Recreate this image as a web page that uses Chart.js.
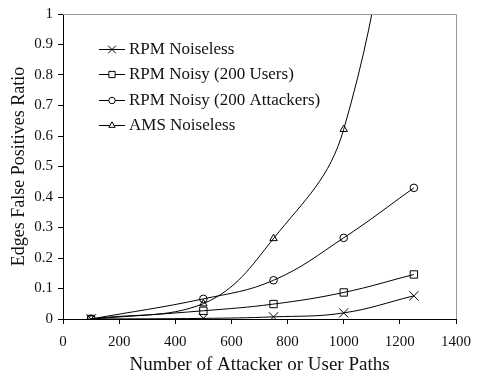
<!DOCTYPE html>
<html lang="en">
<head>
<meta charset="UTF-8">
<title>Edges False Positives Ratio</title>
<script src="https://cdn.jsdelivr.net/npm/chart.js@4"></script>
<style>
  html, body { margin: 0; padding: 0; background: #fff; }
  #wrap { width: 480px; height: 376px; }
</style>
</head>
<body>
<div id="wrap"><canvas id="myChart" width="480" height="376"></canvas></div>
<script>
// data
let pathCounts = [100, 500, 750, 1000, 1250];
let rpmNoiseless = [0, 0.002, 0.007, 0.02, 0.076];
let rpmNoisyUsers = [0, 0.027, 0.049, 0.087, 0.146];
let rpmNoisyAttackers = [0, 0.066, 0.127, 0.266, 0.43];
let amsNoiseless = [0, 0.05, 0.264, 0.622, 1.85];

let seriesNames = ['RPM Noiseless', 'RPM Noisy (200 Users)', 'RPM Noisy (200 Attackers)', 'AMS Noiseless'];
let seriesMarkers = ['crossRot', 'rect', 'circle', 'triangle'];
let markerSizes = [6.5, 5.2, 3.8, 4.3];
let seriesValues = [rpmNoiseless, rpmNoisyUsers, rpmNoisyAttackers, amsNoiseless];

let serif = "'Liberation Serif', 'Times New Roman', serif";

let toPoints = (values) => values.map((v, i) => ({ x: pathCounts[i], y: v }));

let datasets = seriesValues.map((values, i) => ({
    label: seriesNames[i],
    data: toPoints(values),
    borderColor: '#000',
    borderWidth: 1,
    backgroundColor: '#fff',
    pointStyle: seriesMarkers[i],
    pointRadius: markerSizes[i],
    pointBorderColor: '#000',
    pointBackgroundColor: 'rgba(255,255,255,0)',
    pointBorderWidth: 1,
    tension: 0.4,
    fill: false
}));

// legend inside the plot + grey frame on top and right
let cadrePlugin = {
    id: 'cadre',
    afterDraw(chart) {
        let ctx = chart.ctx;
        let area = chart.chartArea;
        ctx.save();
        ctx.strokeStyle = '#999';
        ctx.lineWidth = 1;
        ctx.beginPath();
        ctx.moveTo(area.left, area.top + 0.5);
        ctx.lineTo(area.right + 0.5, area.top + 0.5);
        ctx.lineTo(area.right + 0.5, area.bottom);
        ctx.stroke();

        let x0 = 99, x1 = 125, y = 48.5;
        ctx.font = '17px ' + serif;
        ctx.textBaseline = 'middle';
        datasets.forEach((ds, i) => {
            let yy = Math.round(y + i * 25.5);
            ctx.strokeStyle = '#000';
            ctx.lineWidth = 1;
            ctx.beginPath();
            ctx.moveTo(x0, yy + 0.5);
            ctx.lineTo(x1, yy + 0.5);
            ctx.stroke();
            ctx.fillStyle = '#fff';
            Chart.helpers.drawPoint(ctx, {
                pointStyle: ds.pointStyle,
                radius: ds.pointRadius * 0.85,
                borderWidth: 1
            }, (x0 + x1) / 2, yy + 0.5);
            ctx.fillStyle = '#111';
            ctx.fillText(ds.label, x1 + 4, yy + 1);
        });
        ctx.restore();
    }
};

let content = document.querySelector('#myChart').getContext('2d');
let myChart = new Chart(content, {
    type: 'line',
    data: { datasets: datasets },
    options: {
        responsive: false,
        animation: false,
        layout: { padding: { top: 12, right: 22, left: 0, bottom: 0 } },
        plugins: { legend: { display: false }, tooltip: { enabled: false } },
        scales: {
            x: {
                type: 'linear',
                min: 0,
                max: 1400,
                ticks: {
                    stepSize: 200, color: '#111', font: { family: serif, size: 15 }, padding: 9, maxRotation: 0,
                    callback: (value) => String(value)
                },
                grid: { drawOnChartArea: false, drawTicks: true, tickLength: 5, color: '#000' },
                border: { color: '#000', width: 1 },
                title: { display: true, text: 'Number of Attacker or User Paths', color: '#111', font: { family: serif, size: 19 }, padding: { top: 4, bottom: 0 } },
                afterFit(scale) { scale.height = 57; }
            },
            y: {
                min: 0,
                max: 1,
                ticks: {
                    stepSize: 0.1, color: '#111', font: { family: serif, size: 15 }, padding: 5,
                    callback: (value) => String(Math.round(value * 10) / 10)
                },
                grid: { drawOnChartArea: false, drawTicks: true, tickLength: 5, color: '#000' },
                border: { color: '#000', width: 1 },
                title: { display: true, text: 'Edges False Positives Ratio', color: '#111', font: { family: serif, size: 18 }, padding: { top: 8, bottom: 0 } },
                afterFit(scale) { scale.width = 63; }
            }
        }
    },
    plugins: [cadrePlugin]
});
</script>
</body>
</html>
